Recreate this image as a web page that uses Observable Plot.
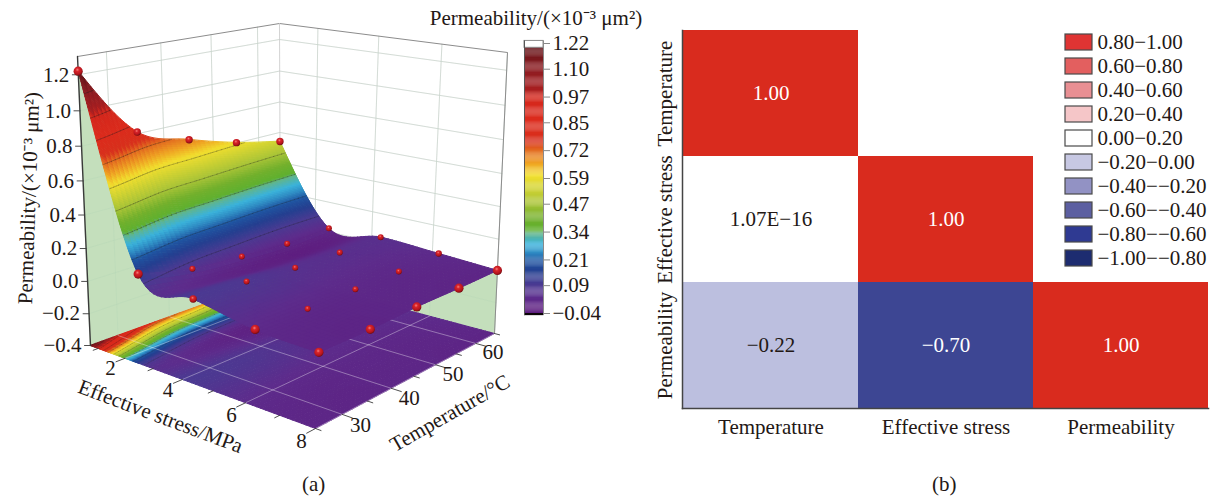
<!DOCTYPE html>
<html>
<head>
<meta charset="utf-8">
<script src="https://cdn.jsdelivr.net/npm/d3@7"></script>
<script src="https://cdn.jsdelivr.net/npm/@observablehq/plot@0.6"></script>
<style>
html,body{margin:0;padding:0;background:#fff;overflow:hidden}
#chart{position:relative;width:1210px;height:499px;font-family:"Liberation Serif",serif;color:#231815}
#chart svg{position:absolute;background:transparent;overflow:visible}
.cap{position:absolute;font-size:21px;line-height:24px}
</style>
</head>
<body>
<div id="chart"></div>
<script>
// ---------- data ----------
const stressLevels = [0.7, 2.5, 4.3, 6.2, 8];
const temperatureLevels = [25, 35, 45, 55, 65];
// permeability by stress row, temperature column
const permeability = [
  [1.22, 0.81, 0.693, 0.603, 0.54],
  [0.137, 0.06, 0.032, 0.015, 0.023],
  [0.088, 0.076, 0.05, 0.042, 0.044],
  [0.025, 0.018, 0.017, 0.015, 0.025],
  [0.01, 0.005, 0.01, 0.005, 0.005]
];
const stressTicks = [2, 4, 6, 8];
const stressMinorTicks = [1, 3, 5, 7];
const temperatureTicks = [30, 40, 50, 60];
const temperatureMinorTicks = [25, 35, 45, 55, 65];
const zTicks = [-0.4, -0.2, 0, 0.2, 0.4, 0.6, 0.8, 1.0, 1.2];
const barTicks = [1.22, 1.10, 0.97, 0.85, 0.72, 0.59, 0.47, 0.34, 0.21, 0.09, -0.04];
const rampValues = [-0.04, -0.02, 0.03, 0.09, 0.15, 0.20, 0.24, 0.28, 0.33, 0.345, 0.40, 0.47, 0.60, 0.66, 0.72, 0.76, 0.85, 0.97, 1.0, 1.10, 1.22];
const rampColors = ["#5e1e80", "#5e1e80", "#5d2c8c", "#4a3a92", "#243f90", "#1f55a2", "#2f8cc4", "#3ab3dc", "#62b58a", "#5fb02f", "#72b02c", "#a9c437", "#f2df2e", "#ef9f22", "#e2681f", "#d8301c", "#dc2b1c", "#d4271c", "#a81e20", "#8c1c22", "#5a1014"];

const variables = ["Temperature", "Effective stress", "Permeability"];
const corrX = ["Temperature", "Temperature", "Temperature", "Effective stress", "Effective stress", "Permeability"];
const corrY = ["Temperature", "Effective stress", "Permeability", "Effective stress", "Permeability", "Permeability"];
const corrValue = [1, 1.07e-16, -0.22, 1, -0.70, 1];
const corrLabel = ["1.00", "1.07E−16", "−0.22", "1.00", "−0.70", "1.00"];
const corrScale = [-1, -0.7, -0.22, 0, 1];
const corrColors = ["#1d2c70", "#3d4693", "#bcbfdf", "#ffffff", "#d92b1e"];
const legendLabels = ["0.80−1.00", "0.60−0.80", "0.40−0.60", "0.20−0.40", "0.00−0.20", "−0.20−0.00", "−0.40−−0.20", "−0.60−−0.40", "−0.80−−0.60", "−1.00−−0.80"];
const legendColors = ["#df3433", "#e35f5f", "#e88f93", "#f5c6c8", "#ffffff", "#c7c8e3", "#9292c4", "#5c5fa1", "#2f3a92", "#1d2c70"];

// ---------- camera of the 3-D box (corner calibration) ----------
const INK = "#231815", FONT = "Liberation Serif", FS = 21;
const S0 = stressLevels[0], S1 = 8, T0 = 25, T1 = 65, Z0 = -0.4, Z1 = 1.3;
function quad(p) { // unit square -> quad
  const [[x0,y0],[x1,y1],[x2,y2],[x3,y3]] = p;
  const dx1=x1-x2, dx2=x3-x2, dx3=x0-x1+x2-x3, dy1=y1-y2, dy2=y3-y2, dy3=y0-y1+y2-y3;
  const den=dx1*dy2-dx2*dy1, g=(dx3*dy2-dx2*dy3)/den, h=(dx1*dy3-dx3*dy1)/den;
  const a=x1-x0+g*x1, b=x3-x0+h*x3, c=x0, d=y1-y0+g*y1, e=y3-y0+h*y3, f=y0;
  return (u,v)=>{const w=g*u+h*v+1; return [(a*u+b*v+c)/w,(d*u+e*v+f)/w];};
}
const floorQuad = quad([[90,345],[315,428],[494,333],[280,276]]);
const roofQuad  = quad([[77,56],[330,93],[507,52],[279,23]]);
function project(s,T,z){
  const u=(s-S0)/(S1-S0), v=(T-T0)/(T1-T0), w=(z-Z0)/(Z1-Z0);
  const f=w/(w+(1-w)*1.08);
  const a=floorQuad(u,v), b=roofQuad(u,v);
  return [a[0]+(b[0]-a[0])*f, a[1]+(b[1]-a[1])*f];
}
// surface drawn as a spline through the 5x5 read values (free ends)
function spline(v,t){
  const n=v.length-1, i=Math.min(Math.floor(t),n-1), f=t-i;
  const inner=k=>(v[k+1]-v[k-1])/2;
  const m0=i===0?1.5*(v[1]-v[0])-0.5*inner(1):inner(i);
  const m1=i===n-1?1.5*(v[n]-v[n-1])-0.5*inner(n-1):inner(i+1);
  const f2=f*f,f3=f2*f;
  return (2*f3-3*f2+1)*v[i]+(f3-2*f2+f)*m0+(-2*f3+3*f2)*v[i+1]+(f3-f2)*m1;
}
const surfaceAt=(a,b)=>spline(permeability.map(r=>spline(r,b)),a);
// the mesh is denser on the steep first stress interval
const NSTEEP=70, NFLAT=42, NA=NSTEEP+NFLAT, NB=40;
const aAt=i=>i<=NSTEEP?i/NSTEEP:1+(i-NSTEEP)/NFLAT*3;
const sOf=a=>{const k=Math.min(Math.floor(a),3);return stressLevels[k]+(stressLevels[k+1]-stressLevels[k])*(a-k);};
const sAt=i=>sOf(aAt(i));
const tAt=j=>T0+(T1-T0)*j/NB;
const grid=d3.range(NA+1).map(i=>d3.range(NB+1).map(j=>surfaceAt(aAt(i),j/NB*4)));
function patches(flat){
  const out=[];
  for(let i=0;i<NA;i++) for(let j=NB-1;j>=0;j--){
    const c=[[i,j],[i+1,j],[i+1,j+1],[i,j+1]];
    const z=d3.mean(c,([a,b])=>grid[a][b]);
    const ring=c.map(([a,b])=>project(sAt(a),tAt(b),flat?Z0:grid[a][b]));
    ring.push(ring[0]);
    out.push({type:"Feature",properties:{z},geometry:{type:"Polygon",coordinates:[ring]}});
  }
  return out;
}
function contourLines(level,flat){
  const segs=[];
  const cross=(a,b,a2,b2)=>{
    const z1=grid[a][b],z2=grid[a2][b2];
    if((z1<level)===(z2<level)) return null;
    const t=(level-z1)/(z2-z1);
    const s=sAt(a)+(sAt(a2)-sAt(a))*t, T=tAt(b)+(tAt(b2)-tAt(b))*t;
    return project(s,T,flat?Z0:level);
  };
  for(let i=0;i<NA;i++) for(let j=0;j<NB;j++){
    const p=[cross(i,j,i+1,j),cross(i+1,j,i+1,j+1),cross(i,j+1,i+1,j+1),cross(i,j,i,j+1)].filter(Boolean);
    if(p.length>=2) segs.push([p[0],p[1]]);
  }
  return {type:"MultiLineString",coordinates:segs};
}
const line=(...pts)=>({type:"LineString",coordinates:pts});
const colorScale={type:"linear",domain:rampValues,range:rampColors,clamp:true};
const levels=barTicks.slice(1,-1);

// curtains hanging below the two back edges of the surface
const tRange=d3.range(NB+1);
const sRange=d3.range(NA+1);
const leftCurtain={type:"Polygon",coordinates:[[
  ...tRange.map(j=>project(S0,tAt(j),grid[0][j])),
  project(S0,T1,Z0),project(S0,T0,Z0),project(S0,T0,grid[0][0])]]};
const backCurtain={type:"Polygon",coordinates:[[
  ...sRange.map(i=>project(sAt(i),T1,grid[i][NB])),
  project(S1,T1,Z0),project(S0,T1,Z0),project(S0,T1,grid[0][NB])]]};

// wall and floor grid
const wallLines=[
  ...zTicks.map(z=>line(project(S0,T0,z),project(S0,T1,z),project(S1,T1,z))),
  ...temperatureTicks.map(T=>line(project(S0,T,Z0),project(S0,T,Z1))),
  ...stressTicks.map(s=>line(project(s,T1,Z0),project(s,T1,Z1)))
];
const floorLines=[
  ...temperatureTicks.map(T=>line(project(S0,T,Z0),project(S1,T,Z0))),
  ...stressTicks.map(s=>line(project(s,T0,Z0),project(s,T1,Z0)))
];
const tickSegs=[
  ...stressTicks.map(s=>line(project(s,T0,Z0),project(s,T0-1.6,Z0))),
  ...stressMinorTicks.map(s=>line(project(s,T0,Z0),project(s,T0-0.9,Z0))),
  ...temperatureTicks.map(T=>line(project(S1,T,Z0),project(S1+0.28,T,Z0))),
  ...temperatureMinorTicks.map(T=>line(project(S1,T,Z0),project(S1+0.15,T,Z0))),
  ...zTicks.map(z=>{const p=project(S0,T0,z);return line(p,[p[0]-6,p[1]]);})
];
const nodes=[];
stressLevels.forEach((s,i)=>temperatureLevels.forEach((T,j)=>{
  const p=project(s,T,permeability[i][j]);
  const r=(i===4||(i===0&&j===0)||(i===1&&j===0)||(i===3&&j===0))?4.6:(i===0||j===0)?3.7:(j===4&&i===3)?3.2:3;
  nodes.push({x:p[0],y:p[1],r});
}));
const ballDefs=()=>{
  const d=d3.create("svg:defs");
  const g=d.append("radialGradient").attr("id","ball").attr("cx","0.42").attr("cy","0.35").attr("r","0.65");
  [["0","#f6807a"],["0.3","#d8242a"],["0.75","#b4141c"],["1","#6e0c10"]].forEach(([o,c])=>g.append("stop").attr("offset",o).attr("stop-color",c));
  return d.node();
};
const zFmt=d=>(d<0?"−":"")+Math.abs(d).toFixed(1);
const at=(fn,o)=>({x:d=>fn(d)[0],y:d=>fn(d)[1],fontFamily:FONT,fontSize:FS,fill:INK,...o});

// ---------- (a) surface ----------
const plotA=Plot.plot({
  width:515,height:499,margin:0,projection:d3.geoIdentity(),
  color:colorScale,
  r:{type:"identity"},
  marks:[
    ballDefs,
    Plot.geo(wallLines,{stroke:"#dcdcdc",strokeWidth:0.9}),
    Plot.geo([leftCurtain,backCurtain],{fill:"#c4dfbc",stroke:"#c4dfbc",strokeWidth:0.5}),
    Plot.geo(wallLines,{stroke:"#aacdb0",strokeWidth:0.6,strokeOpacity:0.35}),
    Plot.geo(patches(true),{fill:d=>d.properties.z,stroke:d=>d.properties.z,strokeWidth:1}),
    Plot.geo(levels.map(l=>contourLines(l,true)),{stroke:"#1a1a1a",strokeWidth:0.4,strokeOpacity:0.4}),
    Plot.geo(floorLines,{stroke:"#ffffff",strokeWidth:0.8,strokeOpacity:0.45}),
    Plot.geo([line(project(S0,T0,Z1),project(S0,T1,Z1),project(S1,T1,Z1),project(S1,T1,Z0))],{stroke:"#8c8c8c",strokeWidth:1}),
    Plot.geo([line(project(S0,T1,Z1),project(S0,T1,Z0))],{stroke:"#c8c8c8",strokeWidth:0.8}),
    Plot.geo(patches(false),{fill:d=>d.properties.z,stroke:d=>d.properties.z,strokeWidth:1}),
    Plot.geo(levels.map(l=>contourLines(l,false)),{stroke:"#1a1a1a",strokeWidth:0.5,strokeOpacity:0.5}),
    Plot.geo([line(project(S0,T0,Z1),project(S0,T0,Z0))],{stroke:"#3a3a3a",strokeWidth:1.4}),
    Plot.geo(tickSegs,{stroke:"#3a3a3a",strokeWidth:0.9}),
    Plot.dot(nodes,{x:"x",y:"y",r:"r",fill:"url(#ball)"}),
    Plot.text(zTicks,at(z=>project(S0,T0,z),{text:zFmt,textAnchor:"end",dx:-9})),
    Plot.text(stressTicks,at(s=>project(s,T0-3.4,Z0),{text:String,dx:5,dy:3})),
    Plot.text(temperatureTicks,at(T=>project(S1+0.55,T,Z0),{text:String,dx:-2,dy:4})),
    Plot.text(["Effective stress/MPa"],at(()=>project(4,T0,Z0),{text:d=>d,rotate:20.6,dx:-22,dy:37})),
    Plot.text(["Temperature/°C"],at(()=>project(S1,45,Z0),{text:d=>d,rotate:-29.7,dx:36,dy:37})),
    Plot.text(["Permeability/(×10⁻³ μm²)"],at(()=>project(S0,T0,0.5),{text:d=>d,rotate:-88,dx:-55,dy:0}))
  ]
});
plotA.style.left="0px";plotA.style.top="0px";

// ---------- colour bar ----------
const barValues=d3.range(-0.04,1.22,0.005);
const plotB=Plot.plot({
  width:230,height:330,marginLeft:104,marginRight:107,marginTop:43,marginBottom:17,
  x:{domain:[0,1],axis:null},
  y:{domain:[-0.04,1.22],axis:null},
  color:colorScale,
  marks:[
    Plot.rect(barValues,{x1:0,x2:1,y1:d=>d,y2:d=>d+0.0055,fill:d=>d}),
    Plot.rect([0],{x1:0,x2:1,y1:1.2,y2:1.232,fill:"#ffffff",stroke:"#8a8a8a",strokeWidth:1}),
    Plot.rect([0],{x1:0,x2:1,y1:-0.05,y2:-0.04,fill:"#0c0508"}),
    Plot.ruleX([1],{y1:-0.05,y2:1.232,stroke:"#8a8a8a"}),
    Plot.ruleX([0],{y1:-0.05,y2:1.232,stroke:"#555"}),
    Plot.axisY(barTicks,{anchor:"right",tickSize:6,tickPadding:3,stroke:"#888",fill:INK,fontSize:FS,fontFamily:FONT,tickFormat:d=>(d<0?"−":"")+Math.abs(d).toFixed(2),label:null}),
    Plot.text(["Permeability/(×10⁻³ μm²)"],{x:0.5,y:1.22,dx:2,dy:-25,text:d=>d,fontFamily:FONT,fontSize:FS,fill:INK})
  ]
});
plotB.style.left="420px";plotB.style.top="0px";

// ---------- (b) correlation matrix ----------
const corr=corrX.map((x,i)=>({x,y:corrY[i],v:corrValue[i],t:corrLabel[i]}));
const plotC=Plot.plot({
  width:570,height:460,marginLeft:42,marginRight:2,marginTop:30,marginBottom:52,
  x:{domain:variables,padding:0,label:null},
  y:{domain:variables,padding:0,label:null},
  color:{type:"linear",domain:corrScale,range:corrColors},
  marks:[
    Plot.cell(corr,{x:"x",y:"y",fill:"v"}),
    Plot.text(corr.filter(d=>Math.abs(d.v)>0.5),{x:"x",y:"y",text:"t",fill:"#ffffff",fontFamily:FONT,fontSize:FS}),
    Plot.text(corr.filter(d=>Math.abs(d.v)<=0.5),{x:"x",y:"y",text:"t",fill:INK,fontFamily:FONT,fontSize:FS}),
    Plot.frame({anchor:"left",stroke:"#444",strokeWidth:1.5}),
    Plot.frame({anchor:"bottom",stroke:"#444",strokeWidth:1.5}),
    Plot.axisX({tickSize:0,tickPadding:11,fill:INK,fontSize:FS,fontFamily:FONT,label:null}),
    Plot.axisY({tickSize:0,tickPadding:11,tickRotate:-90,fill:INK,fontSize:FS,fontFamily:FONT,label:null})
  ]
});
plotC.style.left="640px";plotC.style.top="0px";

// ---------- legend of (b) ----------
const plotD=Plot.plot({
  width:155,height:280,marginLeft:10,marginRight:118,marginTop:21.6,marginBottom:1.4,
  x:{axis:null,domain:["k"],padding:0},
  y:{axis:null,domain:legendLabels,padding:0.32},
  color:{type:"ordinal",domain:legendLabels,range:legendColors},
  marks:[
    Plot.cell(legendLabels,{x:()=>"k",y:d=>d,fill:d=>d,stroke:"#4a4a4a",strokeWidth:1.2}),
    Plot.text(legendLabels,{x:()=>"k",y:d=>d,text:d=>d,textAnchor:"start",dx:18.5,fontFamily:FONT,fontSize:FS,fill:INK})
  ]
});
plotD.style.left="1055px";plotD.style.top="0px";

const root=document.getElementById("chart");
[plotA,plotB,plotC,plotD].forEach(p=>root.append(p));
[["(a)",302],["(b)",932]].forEach(([t,x])=>{
  const c=document.createElement("div");c.className="cap";c.textContent=t;
  c.style.left=x+"px";c.style.top="472px";root.append(c);
});
</script>
</body>
</html>
